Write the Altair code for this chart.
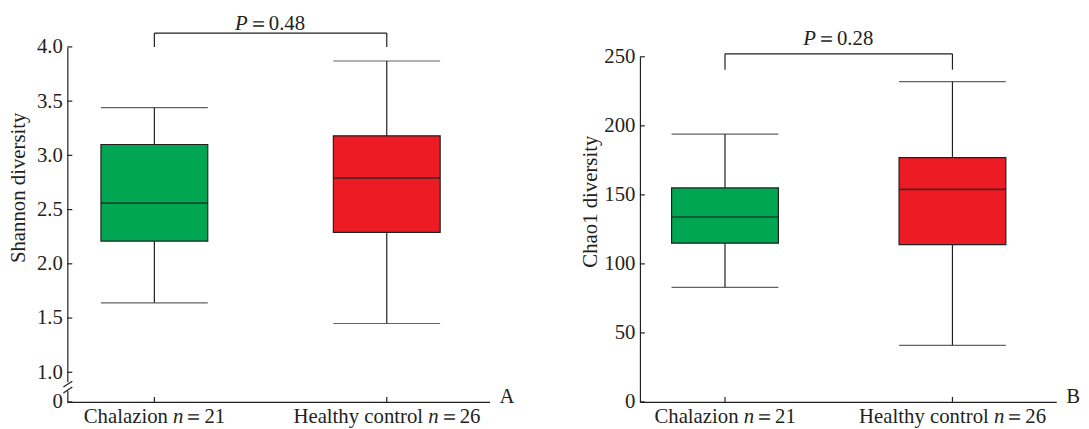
import altair as alt
import pandas as pd

# ---------------- data ----------------
categories = ["Chalazion", "Healthy control"]
group_n = [21, 26]
box_colors = ["#00A651", "#ED1C24"]

shannon_min = [1.64, 1.45]
shannon_q1 = [2.21, 2.29]
shannon_median = [2.56, 2.79]
shannon_q3 = [3.10, 3.18]
shannon_max = [3.44, 3.87]
shannon_p = "0.48"
shannon_ticks = [0, 1.0, 1.5, 2.0, 2.5, 3.0, 3.5, 4.0]

chao1_min = [83, 41]
chao1_q1 = [115, 114]
chao1_median = [134, 154]
chao1_q3 = [155, 177]
chao1_max = [194, 232]
chao1_p = "0.28"
chao1_ticks = [0, 50, 100, 150, 200, 250]

# ---------------- style ----------------
FONT = "Liberation Serif"
INK = "#231F20"
H = 396
FS = 21
BOX_W = 108
LW = 1.2

# approximate Times/Liberation Serif advance widths (em) for label layout
CW = {"C": .667, "h": .5, "a": .444, "l": .278, "z": .444, "i": .278, "o": .5,
      "n": .5, "H": .722, "e": .444, "t": .278, "y": .5, " ": .25, "c": .444,
      "r": .333}


def tw(s):
    return sum(CW.get(ch, .5) for ch in s) * FS


one = pd.DataFrame({"k": [0]})


def panel(lo, q1, med, q3, hi, p_text, ticks, yscale, label_expr, ytitle,
          title_xy, width, pad, align, letter, bracket_top, bracket_bottom,
          p_y, brk=False):
    df = pd.DataFrame({"group": categories, "n": group_n, "lo": lo, "q1": q1,
                       "med": med, "q3": q3, "hi": hi})
    xscale = alt.Scale(type="point", padding=pad, align=align)
    xaxis = alt.Axis(labels=False, ticks=False, title=None, domainColor=INK,
                     domainWidth=LW, grid=False)
    yaxis_kw = dict(values=ticks, ticks=False, tickSize=0, grid=False,
                    domainColor=INK, domainWidth=LW, labelFont=FONT,
                    labelFontSize=FS, labelColor=INK, labelPadding=5,
                    title=ytitle, titleFont=FONT, titleFontSize=FS,
                    titleFontWeight="normal", titleColor=INK, titleAngle=270,
                    titleX=title_xy[0], titleY=title_xy[1],
                    titleAlign="center", titleBaseline="middle")
    if label_expr:
        yaxis_kw["labelExpr"] = label_expr
    yaxis = alt.Axis(**yaxis_kw)

    def X(field="group"):
        return alt.X(f"{field}:N", sort=categories, scale=xscale, axis=xaxis)

    def Y(field):
        return alt.Y(f"{field}:Q", scale=yscale, axis=yaxis)

    base = alt.Chart(df)
    whisker = base.mark_rule(color=INK, strokeWidth=LW).encode(
        x=X(), y=Y("lo"), y2="hi:Q")
    cap_lo = base.mark_tick(color=INK, size=BOX_W, thickness=LW).encode(
        x=X(), y=Y("lo"))
    cap_hi = base.mark_tick(color=INK, size=BOX_W, thickness=LW).encode(
        x=X(), y=Y("hi"))
    box = base.mark_bar(size=BOX_W, stroke=INK, strokeWidth=LW).encode(
        x=X(), y=Y("q1"), y2="q3:Q",
        color=alt.Color("group:N", scale=alt.Scale(domain=categories,
                                                   range=box_colors),
                        legend=None))
    median = base.mark_tick(color=INK, size=BOX_W, thickness=1.6).encode(
        x=X(), y=Y("med"))

    # inward ticks
    tdf = pd.DataFrame({"v": ticks})
    yticks = alt.Chart(tdf).mark_rule(color=INK, strokeWidth=LW).encode(
        y=Y("v"), x=alt.value(0), x2=alt.value(5))
    xticks = base.mark_rule(color=INK, strokeWidth=LW).encode(
        x=X(), y=alt.value(H), y2=alt.value(H - 5))

    # significance bracket
    bdf = pd.DataFrame({"a": [categories[0]], "b": [categories[1]]})
    bracket_h = alt.Chart(bdf).mark_rule(color=INK, strokeWidth=LW).encode(
        x=X("a"), x2="b:N", y=alt.value(bracket_top))
    bracket_v = base.mark_rule(color=INK, strokeWidth=LW).encode(
        x=X(), y=alt.value(bracket_top), y2=alt.value(bracket_bottom))

    step = width / (1 + 2 * pad)
    start = (width - step) * align
    mid = start + step / 2
    p_left = alt.Chart(one).mark_text(
        text="P", font=FONT, fontSize=FS, fontStyle="italic", color=INK,
        align="right", baseline="middle").encode(
        x=alt.value(mid - 23), y=alt.value(p_y))
    p_right = alt.Chart(one).mark_text(
        text="＝" + p_text, font=FONT, fontSize=FS, color=INK,
        align="left", baseline="middle").encode(
        x=alt.value(mid - 23), y=alt.value(p_y))

    # x labels "Group n=NN" with italic n
    label_layers = []
    for cat, nval in zip(categories, group_n):
        rest = "＝" + str(nval)
        total = tw(cat) + tw(" ") + 0.5 * FS + FS + tw(str(nval))
        left = -total / 2
        sub = base.transform_filter(alt.datum.group == cat)
        label_layers.append(sub.mark_text(
            text=cat, font=FONT, fontSize=FS, color=INK, align="right",
            baseline="middle", dx=left + tw(cat)).encode(
            x=X(), y=alt.value(H + 15)))
        label_layers.append(sub.mark_text(
            text="n", font=FONT, fontSize=FS, fontStyle="italic", color=INK,
            align="left", baseline="middle",
            dx=left + tw(cat) + tw(" ")).encode(x=X(), y=alt.value(H + 15)))
        label_layers.append(sub.mark_text(
            text=rest, font=FONT, fontSize=FS, color=INK, align="left",
            baseline="middle",
            dx=left + tw(cat) + tw(" ") + 0.5 * FS).encode(
            x=X(), y=alt.value(H + 15)))

    letter_t = alt.Chart(one).mark_text(
        text=letter, font=FONT, fontSize=FS, color=INK, align="left",
        baseline="middle").encode(x=alt.value(width + 10), y=alt.value(H - 5))

    layers = [whisker, cap_lo, cap_hi, box, median, yticks, xticks,
              bracket_h, bracket_v, p_left, p_right, letter_t] + label_layers

    if brk:
        gap = alt.Chart(one).mark_rect(color="white").encode(
            x=alt.value(-2), x2=alt.value(2), y=alt.value(376),
            y2=alt.value(385))
        s1 = alt.Chart(one).mark_rule(color=INK, strokeWidth=LW).encode(
            x=alt.value(-4), x2=alt.value(5), y=alt.value(381),
            y2=alt.value(375))
        s2 = alt.Chart(one).mark_rule(color=INK, strokeWidth=LW).encode(
            x=alt.value(-4), x2=alt.value(5), y=alt.value(387),
            y2=alt.value(381))
        layers += [gap, s1, s2]

    return alt.layer(*layers).properties(width=width, height=H)


left = panel(shannon_min, shannon_q1, shannon_median, shannon_q3, shannon_max,
             shannon_p, shannon_ticks,
             alt.Scale(domain=[0, 1, 4], range=[H, H - 30, 37], nice=False,
                       zero=False),
             "datum.value == 0 ? '0' : format(datum.value, '.1f')",
             "Shannon diversity", (-49, 179), 427, 0.4085, 0.4583, "A",
             23, 37, 13.5, brk=True)

right = panel(chao1_min, chao1_q1, chao1_median, chao1_q3, chao1_max,
              chao1_p, chao1_ticks,
              alt.Scale(domain=[0, 250], range=[H, 47], nice=False,
                        zero=False),
              None, "Chao1 diversity", (-50, 193), 421, 0.4152, 0.4503, "B",
              44, 60, 29)

chart = alt.hconcat(left, right, spacing=65).properties(
    padding=0, background="white").configure(font=FONT).configure_view(
    stroke=None)

chart.save("out.html", embed_options={"renderer": "svg", "actions": False})
